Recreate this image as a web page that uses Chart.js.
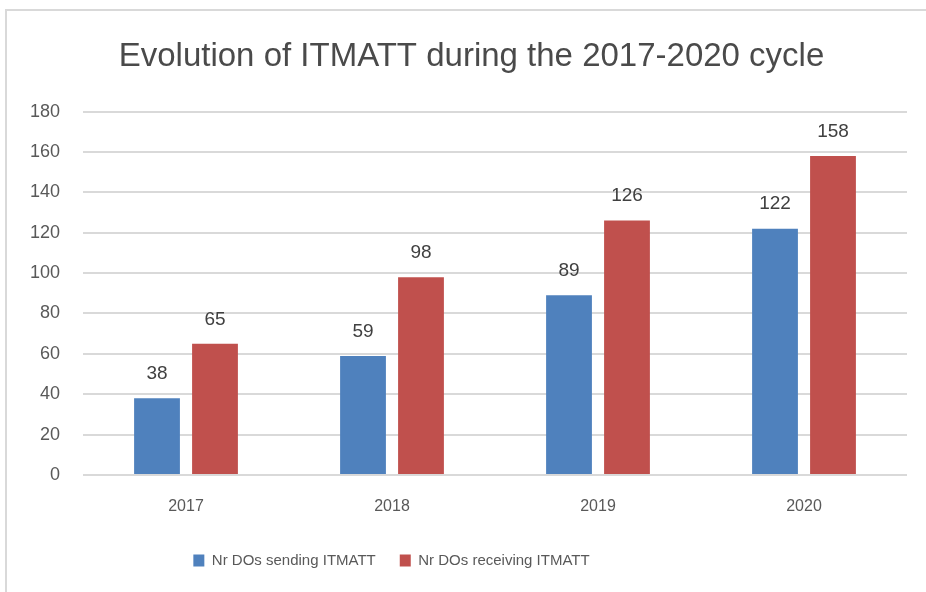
<!DOCTYPE html>
<html>
<head>
<meta charset="utf-8">
<script src="https://cdn.jsdelivr.net/npm/chart.js@4.4.1/dist/chart.umd.min.js"></script>
<style>
  html, body { margin: 0; padding: 0; background: #fff; }
  #wrap { position: relative; width: 926px; height: 592px; overflow: hidden; }
  #frame { position: absolute; left: 5px; top: 9px; width: 940px; height: 620px; border: 2px solid #d9d9d9; box-sizing: border-box; }
  canvas { position: absolute; left: 0; top: 0; }
</style>
</head>
<body>
<div id="wrap">
  <div id="frame"></div>
  <canvas id="c" width="926" height="592"></canvas>
</div>
<script>
const categories = ['2017', '2018', '2019', '2020'];
const sendingValues = [38, 59, 89, 122];
const receivingValues = [65, 98, 126, 158];
const seriesNames = ['Nr DOs sending ITMATT', 'Nr DOs receiving ITMATT'];
const chartTitle = 'Evolution of ITMATT during the 2017-2020 cycle';

const FONT = "'Liberation Sans', Arial, sans-serif";

const valueLabels = {
  id: 'valueLabels',
  afterDatasetsDraw(chart) {
    const ctx = chart.ctx;
    ctx.save();
    ctx.font = '19px ' + FONT;
    ctx.fillStyle = '#404040';
    ctx.textAlign = 'center';
    ctx.textBaseline = 'bottom';
    chart.data.datasets.forEach((ds, i) => {
      chart.getDatasetMeta(i).data.forEach((el, j) => {
        ctx.fillText(String(ds.data[j]), el.x, el.y - 15);
      });
    });
    ctx.restore();
  }
};

const boxShift = {
  id: 'boxShift',
  afterLayout(chart) {
    const lg = chart.legend;
    if (lg) { lg.left -= 62; lg.right -= 62; }
    const tt = chart.titleBlock;
    if (tt) { tt.left += 18; tt.right += 18; }
  }
};

new Chart(document.getElementById('c'), {
  type: 'bar',
  data: {
    labels: categories,
    datasets: [
      { label: seriesNames[0], data: sendingValues, backgroundColor: '#4F81BD', categoryPercentage: 0.563, barPercentage: 0.79 },
      { label: seriesNames[1], data: receivingValues, backgroundColor: '#C0504D', categoryPercentage: 0.563, barPercentage: 0.79 }
    ]
  },
  options: {
    responsive: false,
    animation: false,
    layout: { padding: { top: 28, left: 0, right: 19, bottom: 14 } },
    plugins: {
      title: {
        display: true,
        text: chartTitle,
        color: '#4a4a4a',
        font: { family: FONT, size: 33, weight: 'normal' },
        padding: { top: 9, bottom: 35 }
      },
      legend: {
        position: 'bottom',
        labels: {
          color: '#595959',
          font: { family: FONT, size: 15 },
          boxWidth: 11,
          boxHeight: 12,
          padding: 24
        }
      },
      tooltip: { enabled: false }
    },
    scales: {
      x: {
        grid: { display: false, drawTicks: false },
        border: { display: false },
        ticks: { color: '#595959', font: { family: FONT, size: 16 }, padding: 22 },
        afterFit(scale) { scale.height = 54; }
      },
      y: {
        min: 0,
        max: 180,
        ticks: { stepSize: 20, color: '#595959', font: { family: FONT, size: 18 }, padding: 23 },
        grid: { color: '#d9d9d9', lineWidth: 2, drawTicks: false },
        border: { display: false },
        afterFit(scale) { scale.width = 83; }
      }
    }
  },
  plugins: [valueLabels, boxShift]
});
</script>
</body>
</html>
